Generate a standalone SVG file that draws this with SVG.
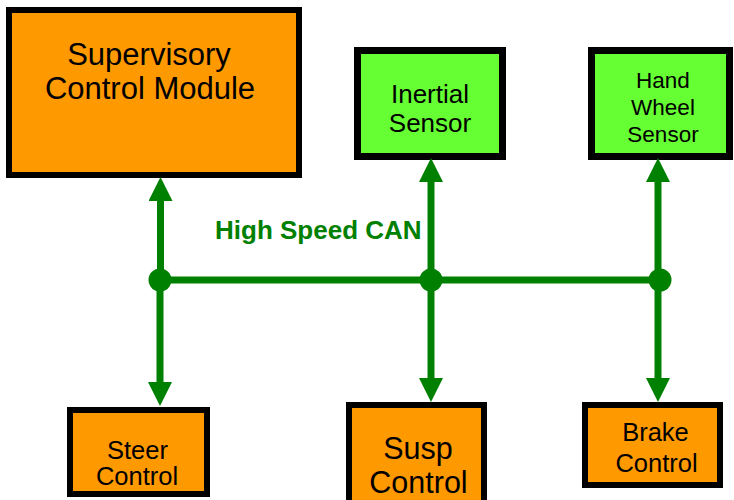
<svg xmlns="http://www.w3.org/2000/svg" width="734" height="500" viewBox="0 0 734 500">
  <style>
    .orange { fill: #FF9900; stroke: #000000; }
    .green { fill: #66FF33; stroke: #000000; stroke-width: 7; }
    .lbl { font-family: "Liberation Sans", Arial, sans-serif; fill: #000000; text-anchor: middle; }
    .conn { stroke: #008000; stroke-width: 7; fill: none; }
    .can { font-family: "Liberation Sans", Arial, sans-serif; font-weight: bold; fill: #008000; font-size: 26px; }
  </style>
  <defs>
    <marker id="arrow" markerUnits="userSpaceOnUse" markerWidth="24" markerHeight="24" viewBox="0 0 24 24" refX="1" refY="12" orient="auto">
      <path d="M0,0 L24,12 L0,24 z" fill="#008000"/>
    </marker>
  </defs>
  <rect width="734" height="500" fill="#ffffff"/>

  <g id="supervisory">
    <rect class="orange" x="9" y="10" width="290" height="165" stroke-width="6"/>
    <text class="lbl" x="149" y="65" font-size="31">Supervisory</text>
    <text class="lbl" x="150" y="99" font-size="31">Control Module</text>
  </g>

  <g id="inertial">
    <rect class="green" x="357.5" y="50.5" width="145" height="106"/>
    <text class="lbl" x="430" y="103" font-size="26">Inertial</text>
    <text class="lbl" x="430" y="132" font-size="26">Sensor</text>
  </g>

  <g id="handwheel">
    <rect class="green" x="591.5" y="50.5" width="138" height="106"/>
    <text class="lbl" x="663" y="88" font-size="22.5">Hand</text>
    <text class="lbl" x="663" y="115" font-size="22.5">Wheel</text>
    <text class="lbl" x="663" y="142" font-size="22.5">Sensor</text>
  </g>

  <g id="steer">
    <rect class="orange" x="70" y="410" width="137" height="84" stroke-width="6"/>
    <text class="lbl" x="137.5" y="459" font-size="25.5">Steer</text>
    <text class="lbl" x="137" y="485" font-size="25.5">Control</text>
  </g>

  <g id="susp">
    <rect class="orange" x="349" y="405" width="135" height="110" stroke-width="6"/>
    <text class="lbl" x="418" y="459" font-size="30.5">Susp</text>
    <text class="lbl" x="418.5" y="493" font-size="30.5">Control</text>
  </g>

  <g id="brake">
    <rect class="orange" x="585" y="405" width="135" height="80" stroke-width="6"/>
    <text class="lbl" x="655.5" y="441" font-size="25.5">Brake</text>
    <text class="lbl" x="656.5" y="472" font-size="25.5">Control</text>
  </g>

  <g id="connectors">
    <line class="conn" x1="160" y1="280" x2="660" y2="280"/>
    <line class="conn" x1="160.5" y1="280" x2="160.5" y2="200" marker-end="url(#arrow)"/>
    <line class="conn" x1="160" y1="280" x2="160" y2="383" marker-end="url(#arrow)"/>
    <line class="conn" x1="431" y1="280" x2="431" y2="181" marker-end="url(#arrow)"/>
    <line class="conn" x1="431" y1="280" x2="431" y2="379" marker-end="url(#arrow)"/>
    <line class="conn" x1="658" y1="280" x2="658" y2="181" marker-end="url(#arrow)"/>
    <line class="conn" x1="658" y1="280" x2="658" y2="379" marker-end="url(#arrow)"/>
    <circle cx="160" cy="280" r="11.5" fill="#008000"/>
    <circle cx="431" cy="280" r="11.5" fill="#008000"/>
    <circle cx="660" cy="280" r="11.5" fill="#008000"/>
    <text class="can" x="215" y="239">High Speed CAN</text>
  </g>
</svg>
